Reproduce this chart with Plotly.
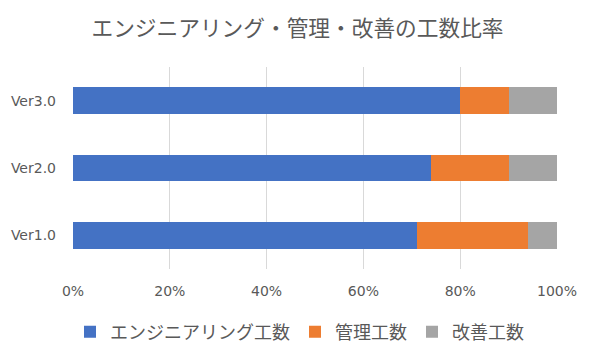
import plotly.graph_objects as go

categories = ["Ver1.0", "Ver2.0", "Ver3.0"]
engineering = [71, 74, 80]
management = [23, 16, 10]
improvement = [6, 10, 10]
series_names = ["エンジニアリング工数", "管理工数", "改善工数"]
colors = ["#4472C4", "#ED7D31", "#A5A5A5"]
x_ticks = [0, 20, 40, 60, 80, 100]
x_tick_labels = ["0%", "20%", "40%", "60%", "80%", "100%"]

cjk = "Noto Sans CJK JP, sans-serif"
latin = "DejaVu Sans, Noto Sans CJK JP, sans-serif"

fig = go.Figure()
for name, vals, col in zip(series_names, [engineering, management, improvement], colors):
    fig.add_trace(go.Bar(
        y=categories, x=vals, name=name, orientation="h",
        marker=dict(color=col, line=dict(width=0)),
    ))

fig.update_layout(
    width=589, height=353,
    barmode="stack", bargap=0.6,
    paper_bgcolor="white", plot_bgcolor="white",
    margin=dict(l=73, r=32, t=67, b=84),
    title=dict(text="エンジニアリング・管理・改善の工数比率", x=297.5 / 589, xanchor="center",
               xref="container",
               y=1 - 28 / 353, yanchor="middle",
               font=dict(family=cjk, size=21.7, color="#595959")),
    font=dict(family=latin, size=14, color="#595959"),
    legend=dict(orientation="h", x=299.5 / 589, xanchor="center",
                xref="container", yref="container",
                y=1 - 332 / 353, yanchor="middle",
                font=dict(family=cjk, size=18, color="#595959"),
                traceorder="normal", itemwidth=30),
    showlegend=True,
)
fig.update_xaxes(range=[0, 100], tickvals=x_ticks, ticktext=x_tick_labels,
                 showgrid=True, gridcolor="#D9D9D9", gridwidth=1,
                 zeroline=False, showline=False, ticks="", ticklabelstandoff=12,
                 tickfont=dict(family=latin, size=14, color="#595959"), fixedrange=True)
fig.update_yaxes(showgrid=False, zeroline=False, showline=False, ticks="",
                 ticklabelstandoff=16, tickfont=dict(family=latin, size=14, color="#595959"))

fig.write_html("out.html")
